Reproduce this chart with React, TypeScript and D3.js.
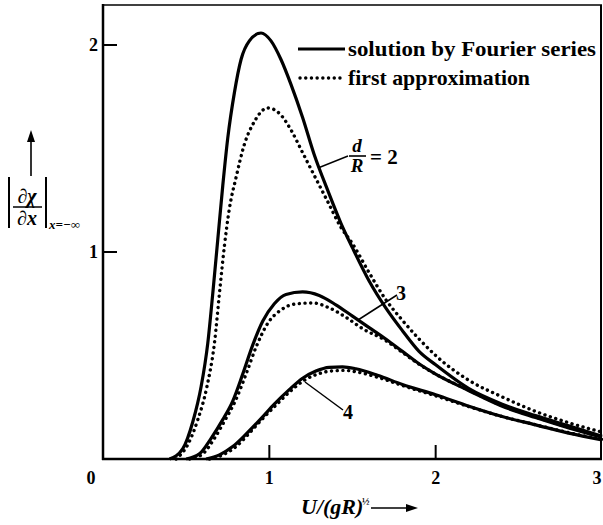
import React from 'react';
import * as d3 from 'd3';

// curve samples [U/(gR)^1/2, |dchi/dx|]
const solid2: [number, number][] = [
  [0.4, 0.0], [0.48, 0.05], [0.54, 0.18], [0.59, 0.35], [0.63, 0.56], [0.66, 0.8], [0.69, 1.06],
  [0.72, 1.32], [0.75, 1.55], [0.79, 1.77], [0.83, 1.93], [0.88, 2.02], [0.95, 2.058], [1.01, 2.02],
  [1.07, 1.93], [1.13, 1.81], [1.2, 1.65], [1.27, 1.47], [1.35, 1.3], [1.43, 1.14], [1.5, 1.02],
  [1.6, 0.86], [1.7, 0.73], [1.8, 0.62], [1.9, 0.52], [2.0, 0.455], [2.2, 0.34], [2.4, 0.265],
  [2.6, 0.21], [2.8, 0.16], [3.0, 0.11],
];
const dotted2: [number, number][] = [
  [0.44, 0.0], [0.51, 0.07], [0.57, 0.19], [0.625, 0.35], [0.67, 0.56], [0.7, 0.8], [0.73, 1.03],
  [0.76, 1.21], [0.8, 1.36], [0.85, 1.52], [0.91, 1.63], [0.99, 1.696], [1.06, 1.67], [1.13, 1.59],
  [1.2, 1.48], [1.27, 1.37], [1.35, 1.245], [1.43, 1.12], [1.5, 1.04], [1.6, 0.9], [1.7, 0.77],
  [1.8, 0.67], [1.9, 0.58], [2.0, 0.5], [2.2, 0.38], [2.4, 0.3], [2.6, 0.23], [2.8, 0.175], [3.0, 0.13],
];
const solid3: [number, number][] = [
  [0.5, 0.0], [0.58, 0.025], [0.65, 0.1], [0.72, 0.19], [0.78, 0.28], [0.84, 0.41], [0.9, 0.55],
  [0.96, 0.665], [1.03, 0.75], [1.1, 0.795], [1.2, 0.807], [1.3, 0.79], [1.4, 0.745], [1.5, 0.69],
  [1.6, 0.635], [1.7, 0.58], [1.8, 0.52], [1.9, 0.46], [2.0, 0.41], [2.2, 0.33], [2.4, 0.255],
  [2.6, 0.2], [2.8, 0.15], [3.0, 0.105],
];
const dotted3: [number, number][] = [
  [0.52, 0.0], [0.6, 0.025], [0.67, 0.1], [0.735, 0.19], [0.795, 0.28], [0.86, 0.41], [0.92, 0.54],
  [0.99, 0.655], [1.07, 0.72], [1.15, 0.748], [1.26, 0.754], [1.36, 0.73], [1.46, 0.685],
  [1.56, 0.63], [1.7, 0.572], [1.8, 0.515], [1.9, 0.458], [2.0, 0.41], [2.2, 0.332], [2.4, 0.258],
  [2.6, 0.203], [2.8, 0.153], [3.0, 0.108],
];
const solid4: [number, number][] = [
  [0.62, 0.0], [0.7, 0.02], [0.78, 0.06], [0.86, 0.12], [0.95, 0.195], [1.03, 0.265], [1.12, 0.335],
  [1.2, 0.39], [1.28, 0.425], [1.36, 0.443], [1.44, 0.445], [1.52, 0.436], [1.65, 0.405],
  [1.8, 0.36], [2.0, 0.31], [2.2, 0.255], [2.4, 0.205], [2.6, 0.165], [2.8, 0.125], [3.0, 0.092],
];
const dotted4: [number, number][] = [
  [0.64, 0.0], [0.72, 0.02], [0.8, 0.06], [0.88, 0.125], [0.96, 0.195], [1.04, 0.26], [1.13, 0.33],
  [1.21, 0.38], [1.29, 0.41], [1.37, 0.425], [1.45, 0.428], [1.53, 0.42], [1.65, 0.395],
  [1.8, 0.355], [2.0, 0.305], [2.2, 0.253], [2.4, 0.205], [2.6, 0.166], [2.8, 0.127], [3.0, 0.094],
];
const xTicks = [0, 1, 2, 3];
const yTicks = [1, 2];

const serif = '"Liberation Serif", "DejaVu Serif", serif';

export default function App() {
  const x = d3.scaleLinear().domain([0, 3]).range([103, 602]);
  const y = d3.scaleLinear().domain([0, 2]).range([459, 45]);
  const line = d3.line<[number, number]>()
    .x(d => x(d[0]))
    .y(d => y(d[1]))
    .curve(d3.curveMonotoneX);

  const solids = [solid2, solid3, solid4];
  const dots = [dotted2, dotted3, dotted4];
  const tickX = (t: number) => (t === 0 ? 91 : t === 3 ? 597 : x(t));

  return (
    <svg width={603} height={525} style={{ position: 'absolute', left: 0, top: 0, background: '#fff' }}
      fontFamily={serif} fontWeight="bold">
      {/* frame */}
      <line x1={103} y1={5} x2={602} y2={5} stroke="#000" strokeWidth={1.3} />
      <line x1={601} y1={5} x2={601} y2={459} stroke="#000" strokeWidth={2} />
      <line x1={103} y1={4} x2={103} y2={460} stroke="#000" strokeWidth={2.5} />
      <line x1={102} y1={459} x2={602} y2={459} stroke="#000" strokeWidth={2.5} />

      {/* ticks */}
      {xTicks.slice(1, 3).map(t => (
        <line key={'xt' + t} x1={x(t)} x2={x(t)} y1={459} y2={445} stroke="#000" strokeWidth={2} />
      ))}
      {yTicks.map(t => (
        <line key={'yt' + t} x1={103} x2={117} y1={y(t)} y2={y(t)} stroke="#000" strokeWidth={2} />
      ))}
      {xTicks.map(t => (
        <text key={'xl' + t} x={tickX(t)} y={484} fontSize={18} textAnchor="middle">{t}</text>
      ))}
      {yTicks.map(t => (
        <text key={'yl' + t} x={98} y={y(t) + 6} fontSize={18} textAnchor="end">{t}</text>
      ))}

      {/* curves */}
      {solids.map((d, i) => (
        <path key={'s' + i} d={line(d) ?? ''} fill="none" stroke="#000" strokeWidth={3.2} strokeLinejoin="round" />
      ))}
      {dots.map((d, i) => (
        <path key={'d' + i} d={line(d) ?? ''} fill="none" stroke="#000" strokeWidth={3.4}
          strokeDasharray="0.1 5.6" strokeLinecap="round" />
      ))}

      {/* legend */}
      <line x1={298} x2={345} y1={49} y2={49} stroke="#000" strokeWidth={3.2} />
      <line x1={300} x2={345} y1={78} y2={78} stroke="#000" strokeWidth={3.4} strokeDasharray="0.1 5.6" strokeLinecap="round" />
      <text x={348} y={56} fontSize={21} textLength={248} lengthAdjust="spacingAndGlyphs">solution by Fourier series</text>
      <text x={348} y={85} fontSize={21} textLength={182} lengthAdjust="spacingAndGlyphs">first approximation</text>

      {/* curve labels */}
      <line x1={318} y1={168} x2={348} y2={156} stroke="#000" strokeWidth={1.5} />
      <text x={357} y={152} fontSize={19} fontStyle="italic" textAnchor="middle">d</text>
      <line x1={349} x2={366} y1={156} y2={156} stroke="#000" strokeWidth={1.6} />
      <text x={357} y={172} fontSize={19} fontStyle="italic" textAnchor="middle">R</text>
      <text x={370} y={164} fontSize={21}>= 2</text>

      <line x1={358} y1={320} x2={397} y2={295} stroke="#000" strokeWidth={1.5} />
      <text x={396} y={300} fontSize={20}>3</text>

      <line x1={305} y1={382} x2={343} y2={410} stroke="#000" strokeWidth={1.5} />
      <text x={343} y={419} fontSize={20}>4</text>

      {/* y axis label */}
      <line x1={31} y1={176} x2={31} y2={140} stroke="#000" strokeWidth={1.6} />
      <path d="M31,130 L27,142 L35,142 Z" fill="#000" />
      <line x1={9} x2={9} y1={177} y2={228} stroke="#000" strokeWidth={2} />
      <line x1={46} x2={46} y1={177} y2={228} stroke="#000" strokeWidth={2} />
      <text x={27} y={203} fontSize={20} textAnchor="middle" fontStyle="italic">∂χ</text>
      <line x1={13} x2={42} y1={207} y2={207} stroke="#000" strokeWidth={1.5} />
      <text x={27} y={225} fontSize={20} textAnchor="middle" fontStyle="italic">∂x</text>
      <text x={49} y={229} fontSize={13} fontStyle="italic">x=−∞</text>

      {/* x axis label */}
      <text x={301} y={514} fontSize={22} fontStyle="italic">U/(gR)</text>
      <text x={362} y={505} fontSize={10}>½</text>
      <line x1={371} x2={408} y1={508} y2={508} stroke="#000" strokeWidth={1.6} />
      <path d="M418,508 L406,504 L406,512 Z" fill="#000" />
    </svg>
  );
}
